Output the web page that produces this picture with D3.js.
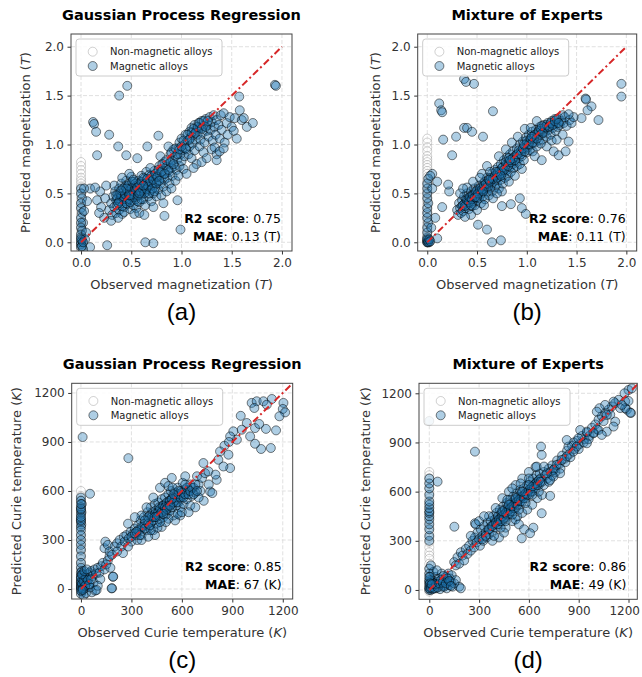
<!DOCTYPE html>
<html><head><meta charset="utf-8">
<script src="https://cdn.jsdelivr.net/npm/d3@7"></script>
<style>body{margin:0;background:#fff}svg{display:block}</style>
</head><body><svg id="chart" width="642" height="677"></svg>
<script>
// ---------- DATA ----------
const magTicks = [0, 0.5, 1.0, 1.5, 2.0];
const curieTicks = [0, 300, 600, 900, 1200];
const titles = ["Gaussian Process Regression", "Mixture of Experts", "Gaussian Process Regression", "Mixture of Experts"];
const panelLetters = ["(a)", "(b)", "(c)", "(d)"];
const r2Scores = ["0.75", "0.76", "0.85", "0.86"];
const maeValues = ["0.13 (T)", "0.11 (T)", "67 (K)", "49 (K)"];
const legendLabels = ["Non-magnetic alloys", "Magnetic alloys"];

// Non-magnetic alloys: observed = 0, predicted values
const magGprNonMagnetic = [0.82,0.78,0.74,0.70,0.66,0.63,0.60,0.57,0.54,0.50,0.47,0.44,0.40,0.37,0.34,0.30,0.27,0.24,0.20,0.17,0.14,0.10,0.07,0.04,0.01,-0.02,-0.05,-0.08,0.02,-0.03];
const magMoeNonMagnetic = [1.06,1.02,0.97,0.93,0.88,0.85,0.82,0.79,0.76,0.73,0.70,0.67,0.64,0.61,0.58,0.55,0.52,0.49,0.46,0.43,0.40,0.37,0.34,0.31,0.28,0.25,0.22,0.19,0.16,0.13,0.10,0.07,0.04,0.01];
const curieGprNonMagnetic = [600,570,540,500,460,420,380,340,320,300,280,250,230,210,180,160,140,120,100,80,60,40,20,0,-20];
const curieMoeNonMagnetic = [720,700,680,650,620,590,560,530,500,470,440,410,380,350,320,290,260,230,210,190,160,130,100,70,40,10,-10];

// Magnetic alloys: [observed, predicted]
const magGprMagnetic = [
[0.28,0.33],[0.30,0.40],[0.31,0.28],[0.32,0.47],[0.33,0.36],[0.34,0.52],[0.35,0.30],[0.35,0.43],[0.30,0.22],[0.33,0.58],
[0.36,0.38],[0.37,0.49],[0.38,0.55],[0.38,0.33],[0.39,0.44],[0.40,0.60],[0.40,0.40],[0.41,0.29],[0.42,0.51],[0.42,0.46],[0.43,0.36],[0.44,0.57],[0.44,0.42],[0.45,0.63],[0.45,0.49],[0.37,0.25],[0.41,0.66],[0.43,0.31],
[0.46,0.39],[0.47,0.54],[0.47,0.45],[0.48,0.60],[0.49,0.34],[0.49,0.50],[0.50,0.43],[0.50,0.67],[0.51,0.56],[0.52,0.38],[0.52,0.48],[0.53,0.62],[0.54,0.52],[0.54,0.44],[0.55,0.58],[0.55,0.35],[0.48,0.70],[0.53,0.29],
[0.56,0.47],[0.57,0.63],[0.57,0.53],[0.58,0.41],[0.59,0.57],[0.60,0.68],[0.60,0.49],[0.61,0.60],[0.62,0.44],[0.62,0.54],[0.63,0.65],[0.64,0.51],[0.64,0.38],[0.65,0.58],[0.65,0.72],[0.58,0.30],
[0.66,0.55],[0.67,0.47],[0.68,0.62],[0.68,0.69],[0.69,0.53],[0.70,0.58],[0.70,0.42],[0.71,0.66],[0.72,0.50],[0.73,0.61],[0.73,0.73],[0.74,0.56],[0.75,0.47],[0.75,0.68],[0.72,0.36],[0.69,0.76],
[0.76,0.62],[0.77,0.54],[0.78,0.70],[0.78,0.78],[0.79,0.60],[0.80,0.66],[0.80,0.48],[0.81,0.73],[0.82,0.57],[0.83,0.82],[0.83,0.64],[0.84,0.70],[0.85,0.52],[0.85,0.77],[0.82,0.40],[0.79,0.88],
[0.86,0.66],[0.87,0.80],[0.88,0.72],[0.88,0.60],[0.89,0.90],[0.90,0.76],[0.91,0.68],[0.91,0.84],[0.92,0.95],[0.93,0.78],[0.94,0.63],[0.94,0.88],[0.95,0.74],[0.90,0.55],[0.87,0.98],
[0.96,0.85],[0.97,0.96],[0.98,0.78],[0.98,1.02],[0.99,0.90],[1.00,0.83],[1.00,1.06],[1.01,0.94],[1.02,0.75],[1.03,1.00],[1.03,0.88],[1.04,1.10],[1.05,0.95],[1.05,0.70],[0.97,0.68],
[1.06,1.04],[1.07,0.90],[1.08,1.13],[1.08,0.98],[1.09,1.07],[1.10,0.86],[1.10,1.17],[1.11,1.01],[1.12,1.10],[1.13,0.94],[1.13,1.20],[1.14,1.05],[1.15,1.15],[1.15,0.80],[1.12,0.76],
[1.16,1.10],[1.17,1.22],[1.18,0.98],[1.18,1.17],[1.19,1.05],[1.20,1.24],[1.21,1.12],[1.22,0.92],[1.22,1.19],[1.23,1.02],[1.24,1.26],[1.25,1.14],[1.25,0.86],[1.20,0.82],
[1.26,1.20],[1.27,1.08],[1.28,1.28],[1.29,1.15],[1.30,0.95],[1.30,1.23],[1.31,1.04],[1.32,1.30],[1.33,1.18],[1.34,1.10],[1.35,0.90],[1.35,1.25],[1.35,0.84],[1.33,0.97],
[1.37,1.20],[1.38,1.06],[1.39,1.30],[1.40,1.15],[1.42,1.32],[1.43,1.02],[1.45,1.22],[1.46,1.10],[1.48,1.28],[1.50,1.18],[1.38,0.93],[1.42,0.96],
[1.53,1.27],[1.55,1.06],[1.58,1.35],[1.60,1.25],[1.62,1.27],[1.65,1.18],[1.71,1.22],[1.575,1.49],[1.93,1.61],[1.94,1.60],[1.52,1.14],
[0.46,1.60],[0.38,1.50],[0.12,1.23],[0.13,1.21],[0.15,1.13],[0.16,0.89],[0.28,1.10],[0.37,0.98],[0.45,0.89],[0.56,0.86],[0.66,0.98],[0.77,1.09],
[0.09,0.55],[0.19,0.52],[0.16,0.43],[0.20,0.36],[0.26,-0.03],[0.64,0.0],[0.72,-0.01],[0.99,0.13],[0.83,0.27],[0.63,0.28],[0.96,0.43],[0.09,-0.05],[0.02,0.20],[0.23,0.25],[0.18,0.30],[0.24,0.45],[0.25,0.58],[0.14,0.56],
[0,0.55],[0,0.50],[0.01,0.45],[0,0.40],[0,0.35],[0.01,0.30],[0,0.25],[0,0.20],[0,0.15],[0.01,0.12],[0,0.08],[0,0.05],[0.01,0.02],[0,0.0],[0,-0.02],[0,-0.05],[0.02,-0.07],[0.03,0.55],[0.06,0.42],[0.05,0.10],[0.04,0.03],[0.01,-0.04],[0,0.03],[0.02,0.0],[0.03,0.32],
[0.36,0.45],[0.38,0.42],[0.39,0.50],[0.40,0.47],[0.41,0.37],[0.42,0.55],[0.43,0.44],[0.44,0.49],[0.45,0.40],[0.46,0.52],[0.47,0.58],[0.48,0.44],[0.49,0.41],[0.50,0.55],[0.50,0.48],[0.51,0.62],[0.52,0.52],[0.53,0.46],[0.54,0.60],[0.55,0.53],
[0.56,0.42],[0.56,0.56],[0.57,0.48],[0.58,0.60],[0.59,0.52],[0.60,0.44],[0.60,0.62],[0.61,0.55],[0.62,0.66],[0.63,0.50],[0.64,0.60],[0.65,0.54],[0.66,0.65],[0.67,0.57],[0.68,0.50],[0.69,0.62],[0.70,0.68],[0.71,0.55],[0.72,0.64],[0.73,0.52],
[0.74,0.70],[0.75,0.60],[0.76,0.67],[0.77,0.74],[0.78,0.63],[0.80,0.72],[0.81,0.80],[0.83,0.70],[0.85,0.84],[0.87,0.74],[0.89,0.82],[0.90,0.92],[0.92,0.80],[0.94,0.96],[0.96,0.90],[0.98,0.95],[1.00,0.98],[1.02,1.04],[1.04,0.96],[1.06,1.10],
[1.08,1.05],[1.10,1.12],[1.12,1.16],[1.14,1.12],[1.16,1.18],[1.18,1.22],[1.20,1.16],[1.22,1.24],[1.24,1.18],[1.26,1.24],[0.45,0.55],[0.52,0.64],[0.58,0.50],[0.62,0.58],[0.48,0.48],[0.40,0.53],[0.35,0.48],[0.37,0.40]
];

const magMoeMagnetic = [
[0.30,0.33],[0.31,0.28],[0.32,0.40],[0.33,0.35],[0.34,0.30],[0.35,0.43],[0.35,0.37],[0.36,0.32],[0.37,0.47],[0.38,0.40],[0.38,0.35],[0.39,0.44],[0.40,0.38],[0.40,0.50],[0.41,0.42],[0.42,0.34],[0.42,0.46],[0.43,0.40],[0.44,0.52],[0.44,0.44],[0.45,0.37],[0.45,0.48],[0.46,0.42],[0.47,0.55],[0.47,0.45],[0.48,0.50],[0.48,0.38],[0.49,0.47],[0.50,0.53],[0.50,0.43],
[0.51,0.49],[0.52,0.58],[0.52,0.45],[0.53,0.52],[0.54,0.40],[0.54,0.56],[0.55,0.50],[0.56,0.60],[0.56,0.47],[0.57,0.54],[0.58,0.62],[0.58,0.44],[0.59,0.57],[0.60,0.52],[0.60,0.66],[0.61,0.60],[0.62,0.55],[0.62,0.48],[0.63,0.64],[0.64,0.58],[0.65,0.70],[0.65,0.52],[0.66,0.62],[0.67,0.67],[0.68,0.56],[0.68,0.74],[0.69,0.64],[0.70,0.70],[0.70,0.60],
[0.71,0.77],[0.72,0.67],[0.72,0.55],[0.73,0.73],[0.74,0.80],[0.74,0.64],[0.75,0.70],[0.76,0.77],[0.76,0.60],[0.77,0.84],[0.78,0.72],[0.78,0.66],[0.79,0.79],[0.80,0.87],[0.80,0.74],[0.81,0.68],[0.82,0.82],[0.83,0.77],[0.83,0.90],[0.84,0.72],[0.85,0.85],[0.86,0.80],[0.86,0.93],[0.87,0.76],[0.88,0.88],[0.89,0.83],[0.90,0.96],[0.90,0.78],
[0.91,0.90],[0.92,0.86],[0.93,1.00],[0.93,0.80],[0.94,0.93],[0.95,0.88],[0.96,1.03],[0.97,0.95],[0.97,0.84],[0.98,0.99],[0.99,1.07],[1.00,0.92],[1.00,1.01],[1.01,0.97],[1.02,1.10],[1.03,0.94],[1.03,1.04],[1.04,1.00],[1.05,1.13],[1.06,1.06],[1.06,0.93],[1.07,1.09],[1.08,1.02],[1.09,1.15],[1.10,1.08],[1.10,0.98],
[1.11,1.12],[1.12,1.04],[1.13,1.18],[1.14,1.10],[1.15,1.14],[1.16,1.05],[1.17,1.20],[1.18,1.12],[1.19,1.17],[1.20,1.08],[1.21,1.22],[1.22,1.15],[1.23,1.19],[1.24,1.10],[1.25,1.24],[1.26,1.17],[1.27,1.21],[1.28,1.26],[1.29,1.14],[1.30,1.22],[1.31,1.18],[1.32,1.27],[1.33,1.20],[1.35,1.24],[1.36,1.30],[1.37,1.22],[1.38,1.28],[1.40,1.19],[1.43,1.25],[1.45,1.22],
[1.36,1.10],[1.20,0.98],[1.08,0.88],[0.95,0.75],[0.88,0.68],[0.75,0.52],[0.66,0.45],[0.57,0.38],[0.50,0.33],[0.44,0.28],[0.38,0.26],[0.60,0.78],[0.72,0.88],[0.85,1.02],[0.98,1.16],[1.10,1.24],[0.55,0.70],[0.46,0.62],[0.40,0.56],[0.33,0.50],[0.36,0.55],[0.53,0.66],[0.79,0.95],[1.14,1.01],[1.25,1.04],[1.30,1.05],[0.63,0.72],[0.91,1.08],[1.04,1.17],[0.70,0.50],[0.82,0.62],
[0.37,1.67],[0.39,1.64],[0.47,1.62],[0.12,1.42],[0.14,1.35],[0.15,1.33],[0.66,1.34],[0.37,1.17],[0.40,1.17],[0.45,1.13],[0.29,1.08],[0.56,1.08],[0.16,1.05],[0.25,0.89],
[1.95,1.62],[1.95,1.49],[1.72,1.25],[1.59,1.47],[1.595,1.46],[1.65,1.39],[1.61,1.35],[1.55,1.27],[1.47,1.28],[1.42,1.31],
[0.65,0.0],[0.74,0.02],[0.95,0.35],[0.99,0.29],[0.93,0.45],[0.84,0.39],[0.75,0.37],[0.60,0.13],[0.51,0.18],[0.10,0.04],[0.08,0.25],[0.15,0.36],[0.22,0.52],[0.10,0.62],[0.21,0.59],[0.05,0.70],
[1.27,0.93],[1.32,0.89],[1.39,0.93],[1.42,1.03],[1.15,0.84],
[0,0],[0,0.0],[0.01,0.01],[0,0.02],[0.02,0.0],[0,0.05],[0,0.10],[0,0.15],[0.01,0.20],[0,0.25],[0,0.30],[0,0.35],[0.01,0.40],[0,0.45],[0,0.50],[0,0.55],[0,0.60],[0.01,0.65],[0.03,0.68],[0,0.03],[0.01,0.0],[0.02,0.03],[0.03,0.01],[0.05,0.55],[0.04,0.15],
[0.36,0.38],[0.38,0.37],[0.40,0.43],[0.42,0.41],[0.43,0.46],[0.45,0.44],[0.46,0.48],[0.48,0.46],[0.49,0.52],[0.51,0.50],[0.53,0.55],[0.55,0.54],[0.57,0.58],[0.59,0.60],[0.61,0.57],[0.63,0.62],[0.64,0.66],[0.66,0.65],[0.68,0.68],[0.70,0.66],
[0.71,0.72],[0.73,0.70],[0.75,0.76],[0.77,0.74],[0.79,0.82],[0.81,0.78],[0.82,0.86],[0.84,0.82],[0.86,0.86],[0.88,0.84],[0.90,0.90],[0.92,0.94],[0.94,0.90],[0.96,0.96],[0.98,0.93],[1.00,1.04],[1.02,1.00],[1.04,1.06],[1.06,1.02],[1.08,1.10],
[1.10,1.06],[1.12,1.14],[1.14,1.16],[1.16,1.12],[1.18,1.18],[1.20,1.20],[1.22,1.18],[1.24,1.22],[1.26,1.20],[1.28,1.24],[1.30,1.26],[1.32,1.22],[0.44,0.38],[0.50,0.46],[0.56,0.52],[0.62,0.64],[0.69,0.72],[0.74,0.68],[0.83,0.84],[0.97,1.00],[1.05,1.08],[1.15,1.19]
];

const curieGprMagnetic = [
[0,560],[0,540],[5,520],[0,500],[0,480],[3,470],[0,455],[0,430],[0,410],[2,395],[0,380],[0,360],[0,330],[0,300],[0,270],[0,240],[0,200],[0,160],[0,130],[5,110],[0,100],[10,90],[0,80],[15,70],[0,60],[8,50],[0,40],[20,35],[0,25],[12,20],[0,10],[25,5],[0,0],[5,-15],[0,-30],[15,-40],[30,-25],
[20,60],[35,40],[40,90],[45,20],[50,100],[60,110],[70,80],[80,120],[90,95],[100,130],[110,100],[120,140],[75,40],[65,-20],[85,-10],[55,10],[130,160],[140,120],[115,60],[100,20],[150,150],[160,175],[175,130],[185,5],[190,75],[170,200],
[10,930],[282,801],[54,583],
[140,250],[145,290],[160,270],[170,230],[185,210],[200,260],[215,280],[230,300],[240,260],[255,320],[260,290],[270,330],[280,400],[285,310],[295,350],[300,290],[310,340],[320,370],[330,330],[335,300],[340,390],[350,360],[355,420],[360,330],[370,380],[375,440],[380,400],[390,360],[395,470],[400,420],[405,380],[410,450],[415,500],[420,410],[425,470],[430,360],[435,440],[440,520],[445,480],[450,400],[455,460],[460,530],[465,500],[470,430],[475,470],[480,550],[485,510],[490,440],[495,490],[500,560],[505,520],[510,460],[515,500],[520,580],[525,540],[530,480],[535,600],[540,520],[545,560],[550,450],[555,540],[560,590],[565,510],[570,560],[575,620],[580,530],[585,570],[590,500],[595,600],[600,560],[605,650],[610,520],[615,580],[620,610],[630,550],[640,600],[650,640],[660,570],[670,620],[680,590],[690,690],[700,640],[710,600],[720,680],[730,540],[700,560],[620,690],[590,450],[560,420],[520,430],[480,380],[440,330],[400,320],[360,300],[470,620],[430,560],[390,500],[500,650],[540,680],[575,460],[650,510],[600,470],[455,375],[520,630],[360,450],[320,440],[280,260],[250,220],[215,230],[505,410],[545,620],[415,360],[640,470],[680,500],
[1015,1139],[1045,1149],[1085,1149],[1135,1163],[1105,1128],[1031,1108],[1204,1139],[1200,1102],[1214,1081],[1180,1057],[1160,971],[1129,863],[1071,857],[1035,889],[1006,934],[1035,985],[986,1016],[956,975],[906,965],[927,914],[887,934],[853,877],[827,842],[817,791],[877,822],[887,740],[847,750],[807,668],[768,597],[781,587],[738,709],[728,771],[758,720],[182,4],[192,76],[93,-6],[950,1060],[880,900],[800,700],[760,640],[1100,980],[1060,1010],
[0,15],[0,45],[0,70],[5,30],[10,5],[15,50],[25,20],[30,70],[40,55],[50,30],[60,60],[5,90],[20,110],[35,120],[0,-10],[10,-5],[0,420],[0,440],[0,490],[0,520],
[300,320],[320,340],[340,360],[360,380],[380,370],[400,400],[410,390],[420,440],[430,420],[440,460],[450,440],[460,470],[470,490],[480,470],[490,510],[500,480],[510,530],[520,510],[530,540],[540,500],
[550,530],[560,560],[570,530],[580,580],[590,560],[600,590],[610,560],[620,580],[630,620],[640,580],[650,600],[660,620],[670,580],[680,640],[690,600],[460,450],[500,500],[540,550],[580,600],[620,640],
[470,410],[510,490],[550,580],[490,460],[530,510],[440,440],[400,440],[350,330],[330,350],[380,420]
];

const curieMoeMagnetic = [
[0,0],[5,10],[10,30],[0,50],[15,60],[20,20],[30,40],[35,80],[40,10],[50,50],[55,25],[60,70],[70,40],[75,100],[80,20],[90,60],[95,30],[100,80],[105,10],[110,50],[115,100],[120,30],[125,70],[130,50],[135,90],[140,20],[150,40],[160,60],[180,20],[190,10],[0,100],[0,130],[5,80],[25,110],[45,120],[65,5],[85,85],[10,150],[0,20],[8,0],[20,5],[0,35],
[0,300],[0,330],[0,370],[0,400],[0,430],[0,450],[0,470],[0,480],[0,500],[0,520],[0,540],[0,580],[0,620],[0,650],[0,680],[0,1031],[50,661],[151,386],[275,844],[275,407],
[150,170],[160,150],[170,200],[180,160],[190,230],[200,210],[210,180],[220,250],[230,220],[240,270],[250,240],[260,300],[270,260],[275,320],[285,290],[290,350],[300,310],[305,270],[310,370],[320,330],[325,300],[330,390],[340,350],[345,320],[350,410],[355,370],[360,340],[370,420],[375,390],[380,360],[385,450],[390,400],[395,430],[400,380],[405,470],[410,420],[415,450],[420,400],[425,490],[430,440],[435,470],[440,420],[445,510],[450,460],[455,490],[460,440],[465,530],[470,480],[475,510],[480,460],[485,550],[490,500],[495,530],[500,480],[505,570],[510,520],[515,550],[520,500],[525,590],[530,540],[535,570],[540,520],[545,610],[550,560],[555,590],[560,540],[570,620],[575,580],[580,560],[590,640],[595,600],[600,580],[605,660],[610,620],[620,600],[625,680],[630,640],[640,620],[645,700],[650,660],[660,640],[665,710],[670,680],[680,660],[690,720],[700,700],[710,680],[720,740],[730,720],[740,760],[755,740],[770,790],[785,770],[800,820],[815,800],[830,850],[845,830],[860,880],[875,860],[890,910],[905,890],[920,940],[935,920],[950,960],[965,940],[980,990],[1000,1010],[1020,1040],[1040,1060],[1060,1080],[1080,1100],[1100,1120],[1120,1140],[1140,1160],[1200,1220],[1220,1230],
[420,320],[460,380],[500,420],[530,450],[560,470],[590,490],[620,520],[650,560],[680,580],[360,450],[400,500],[440,560],[480,600],[520,640],[560,680],[600,720],[640,750],[280,400],[250,330],[300,420],[330,450],[380,300],[450,350],[520,430],[540,400],[470,550],[390,330],[430,380],[500,620],[550,650],[600,680],[660,600],[690,640],[720,660],[740,700],[760,720],[790,740],[820,780],[850,810],[870,900],[900,860],[930,900],[960,920],[990,960],[1010,980],[1050,1030],[1090,1070],[1150,1110],[1180,1150],[1190,1100],[1215,1080],
[673,875],[677,824],[647,753],[728,574],[677,468],[627,380],[571,370],[557,315],[607,346],
[1176,1200],[1200,1153],[1210,1082],[1180,1109],[1160,1129],[1110,1149],[1059,1129],[1025,1109],[1009,1088],[1069,1068],[1120,1027],[1110,997],[1069,966],[1019,976],[1039,946],[989,956],[949,966],[909,976],[898,925],[949,895],[888,875],[838,875],[828,915],[868,844],[828,814],[797,793],[767,763],[748,732],[788,712],[748,692],[728,671],[708,712],[691,753],
[0,10],[10,15],[20,45],[30,10],[40,35],[50,15],[60,40],[70,60],[80,45],[90,20],[100,40],[110,70],[120,55],[130,25],[0,60],[0,80],[5,40],[15,35],
[320,310],[340,330],[360,370],[380,390],[400,410],[410,400],[420,430],[430,420],[440,450],[450,440],[460,470],[470,460],[480,490],[490,480],[500,510],[510,500],[520,530],[530,520],[540,550],[550,540],
[560,570],[570,560],[580,590],[590,580],[600,610],[610,600],[620,630],[630,620],[640,650],[650,640],[660,670],[670,660],[440,480],[480,520],[520,560],[560,600],[600,640],[460,420],[500,460],[540,490],[580,530],[620,580]
];

// ---------- LAYOUT ----------
const panels = [
  {left:71,  top:34,  right:292,   bottom:251, xDom:[-0.1,2.1], yDom:[-0.089,2.13], ticks:magTicks, fmt:d3.format(".1f"),
   xlab:"Observed magnetization ", ylab:"Predicted magnetization ", unit:"T", mag:magGprMagnetic, non:magGprNonMagnetic, diag:2.0, ylOff:41},
  {left:417.7,top:34, right:636.7, bottom:251, xDom:[-0.096,2.104], yDom:[-0.089,2.13], ticks:magTicks, fmt:d3.format(".1f"),
   xlab:"Observed magnetization ", ylab:"Predicted magnetization ", unit:"T", mag:magMoeMagnetic, non:magMoeNonMagnetic, diag:2.0, ylOff:38},
  {left:71.7, top:383.3, right:292.7, bottom:599, xDom:[-55,1259], yDom:[-61,1259], ticks:curieTicks, fmt:d3.format("d"),
   xlab:"Observed Curie temperature ", ylab:"Predicted Curie temperature ", unit:"K", mag:curieGprMagnetic, non:curieGprNonMagnetic, diag:1259, ylOff:51},
  {left:419, top:383.3, right:637.3, bottom:599.3, xDom:[-62,1253], yDom:[-57,1261], ticks:curieTicks, fmt:d3.format("d"),
   xlab:"Observed Curie temperature ", ylab:"Predicted Curie temperature ", unit:"K", mag:curieMoeMagnetic, non:curieMoeNonMagnetic, diag:1253, ylOff:49}
];

const svg = d3.select("#chart");
const FONT = "'DejaVu Sans', sans-serif";

panels.forEach((p, i) => {
  const x = d3.scaleLinear().domain(p.xDom).range([p.left, p.right]);
  const y = d3.scaleLinear().domain(p.yDom).range([p.bottom, p.top]);
  const g = svg.append("g");
  const clipId = "clip" + i;
  g.append("clipPath").attr("id", clipId).append("rect")
    .attr("x", p.left).attr("y", p.top).attr("width", p.right - p.left).attr("height", p.bottom - p.top);

  // grid
  const grid = g.append("g").attr("stroke", "#d8d8d8").attr("stroke-width", 0.8).attr("stroke-dasharray", "4,2");
  p.ticks.forEach(t => {
    grid.append("line").attr("x1", x(t)).attr("x2", x(t)).attr("y1", p.top).attr("y2", p.bottom);
    grid.append("line").attr("y1", y(t)).attr("y2", y(t)).attr("x1", p.left).attr("x2", p.right);
  });

  const pts = g.append("g").attr("clip-path", `url(#${clipId})`);
  // non-magnetic
  pts.append("g").selectAll("circle").data(p.non).join("circle")
    .attr("cx", x(0)).attr("cy", d => y(d)).attr("r", 4.5)
    .attr("fill", "#fff").attr("fill-opacity", 0.3)
    .attr("stroke", "#666").attr("stroke-opacity", 0.3).attr("stroke-width", 1);
  // magnetic
  pts.append("g").selectAll("circle").data(p.mag).join("circle")
    .attr("cx", d => x(d[0])).attr("cy", d => y(d[1])).attr("r", 4.5)
    .attr("fill", "#1f77b4").attr("fill-opacity", 0.36)
    .attr("stroke", "#000").attr("stroke-opacity", 0.5).attr("stroke-width", 1);

  // diagonal
  pts.append("line").attr("x1", x(0)).attr("y1", y(0)).attr("x2", x(p.diag)).attr("y2", y(p.diag))
    .attr("stroke", "#d62728").attr("stroke-width", 2).attr("stroke-dasharray", "7,3,2,3");

  // axes
  const xa = d3.axisBottom(x).tickValues(p.ticks).tickFormat(p.fmt).tickSize(3.5).tickPadding(3.5);
  const ya = d3.axisLeft(y).tickValues(p.ticks).tickFormat(p.fmt).tickSize(3.5).tickPadding(3.5);
  const gx = g.append("g").attr("transform", `translate(0,${p.bottom})`).call(xa);
  const gy = g.append("g").attr("transform", `translate(${p.left},0)`).call(ya);
  [gx, gy].forEach(a => {
    a.select(".domain").remove();
    a.selectAll(".tick line").attr("stroke", "#333");
    a.selectAll(".tick text").attr("fill", "#333").style("font-family", FONT).style("font-size", "12px");
  });
  // keep the last x tick label inside the page
  const lastTick = gx.selectAll(".tick text").filter(d => d === p.ticks[p.ticks.length - 1]);
  const bb = lastTick.node().getBoundingClientRect();
  if (bb.right > 640) lastTick.attr("dx", (640 - bb.right) + "px");

  g.append("rect").attr("x", p.left).attr("y", p.top).attr("width", p.right - p.left).attr("height", p.bottom - p.top)
    .attr("fill", "none").attr("stroke", "#444").attr("stroke-width", 1);

  const cx = (p.left + p.right) / 2, cy = (p.top + p.bottom) / 2;
  // title
  g.append("text").attr("x", cx).attr("y", p.top - 14).attr("text-anchor", "middle")
    .style("font-family", FONT).style("font-weight", "bold").style("font-size", "14.5px").attr("fill", "#000").text(titles[i]);
  // x label
  const xl = g.append("text").attr("x", cx).attr("y", p.bottom + 38).attr("text-anchor", "middle")
    .style("font-family", FONT).style("font-size", "13px").attr("fill", "#333");
  xl.append("tspan").text(p.xlab + "(");
  xl.append("tspan").style("font-style", "italic").text(p.unit);
  xl.append("tspan").text(")");
  // y label
  const yl = g.append("text").attr("transform", `translate(${p.left - p.ylOff},${cy}) rotate(-90)`).attr("text-anchor", "middle")
    .style("font-family", FONT).style("font-size", "13px").attr("fill", "#333");
  yl.append("tspan").text(p.ylab + "(");
  yl.append("tspan").style("font-style", "italic").text(p.unit);
  yl.append("tspan").text(")");
  // panel letter
  g.append("text").attr("x", cx).attr("y", p.bottom + 69).attr("text-anchor", "middle")
    .style("font-family", "'Liberation Sans', Arial, sans-serif").style("font-size", "24px").attr("fill", "#000").text(panelLetters[i]);

  // annotation
  const a1 = g.append("text").attr("x", p.right - 11).attr("y", p.bottom - 28).attr("text-anchor", "end")
    .style("font-family", FONT).style("font-size", "12.5px").attr("fill", "#000");
  a1.append("tspan").style("font-weight", "bold").text("R2 score");
  a1.append("tspan").text(": " + r2Scores[i]);
  const a2 = g.append("text").attr("x", p.right - 11).attr("y", p.bottom - 10).attr("text-anchor", "end")
    .style("font-family", FONT).style("font-size", "12.5px").attr("fill", "#000");
  a2.append("tspan").style("font-weight", "bold").text("MAE");
  a2.append("tspan").text(": " + maeValues[i]);

  // legend
  const lg = g.append("g").attr("transform", `translate(${p.left + 5},${p.top + 5})`);
  lg.append("rect").attr("width", 146).attr("height", 37).attr("rx", 3)
    .attr("fill", "#fff").attr("fill-opacity", 0.85).attr("stroke", "#ccc").attr("stroke-width", 1);
  lg.append("circle").attr("cx", 16.7).attr("cy", 12.7).attr("r", 4.5)
    .attr("fill", "#fff").attr("stroke", "#666").attr("stroke-opacity", 0.3);
  lg.append("circle").attr("cx", 16.7).attr("cy", 27).attr("r", 4.5)
    .attr("fill", "#1f77b4").attr("fill-opacity", 0.36).attr("stroke", "#000").attr("stroke-opacity", 0.5);
  legendLabels.forEach((lab, k) => {
    lg.append("text").attr("x", 34).attr("y", 16.3 + k * 14.3)
      .style("font-family", FONT).style("font-size", "10px").attr("fill", "#222").text(lab);
  });
});
</script>
</body></html>
